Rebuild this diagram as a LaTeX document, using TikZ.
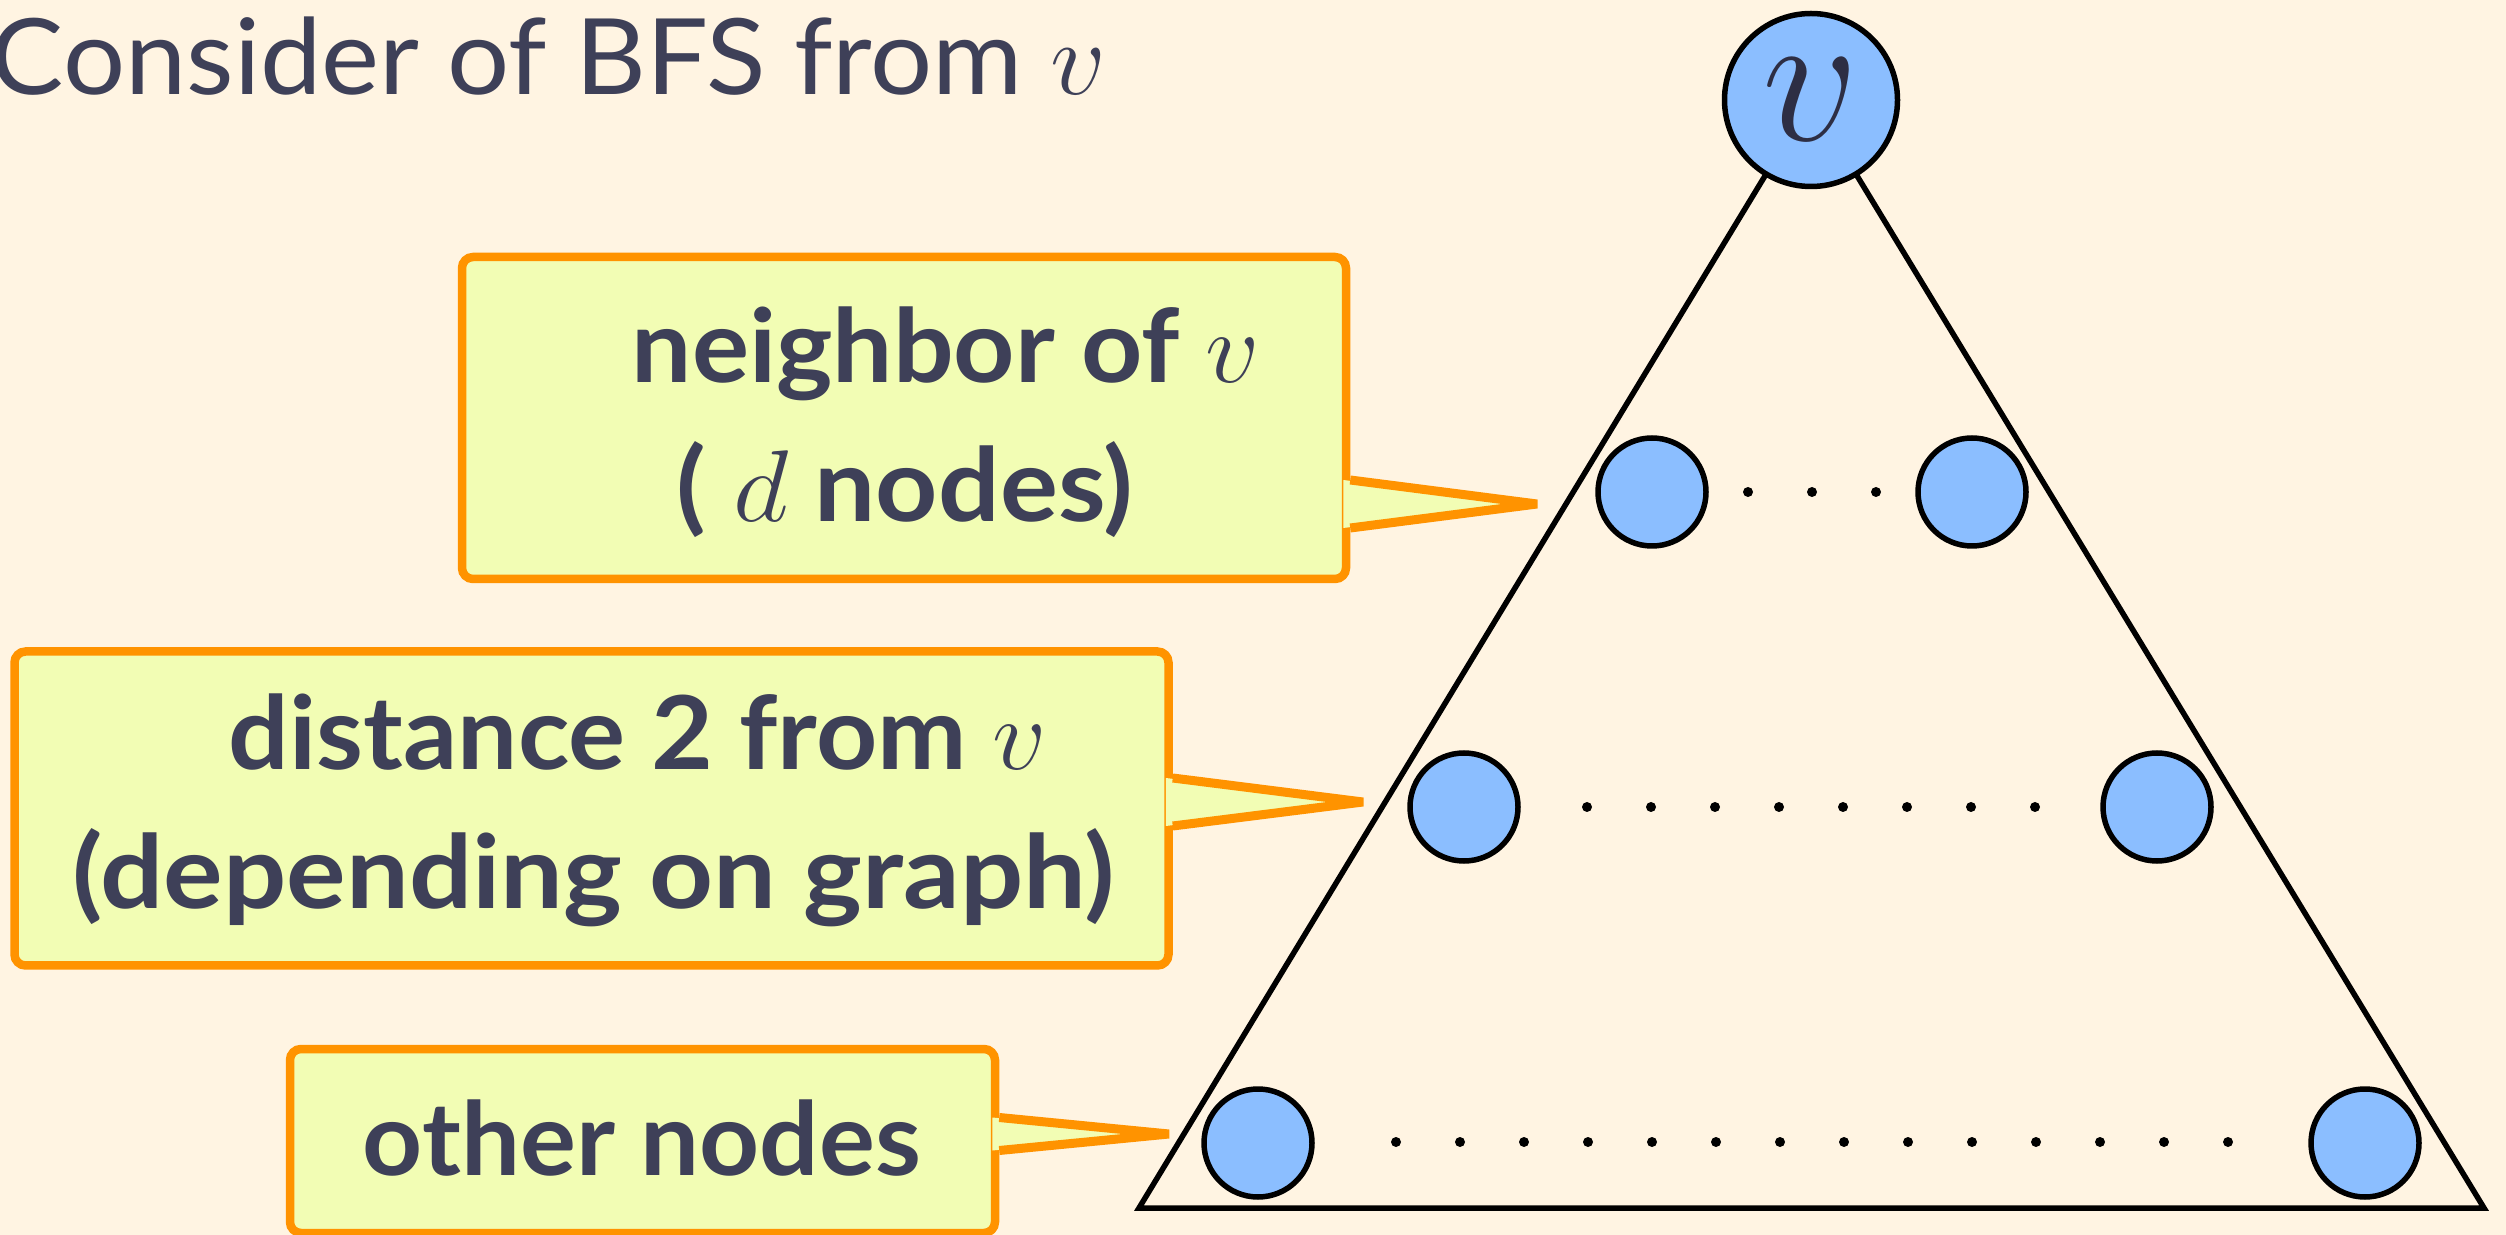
\RequirePackage{fix-cm}
\documentclass[tikz,border=0pt]{standalone}
\usepackage{graphicx}
\usepackage{fontspec}
\setmainfont{Lato}
\usetikzlibrary{calc}

\definecolor{bgcream}{HTML}{FFF4E2}
\definecolor{boxfill}{HTML}{F2FDB4}
\definecolor{boxline}{HTML}{FF9300}
\definecolor{nodeblue}{HTML}{8BBEFF}
\definecolor{ink}{HTML}{3E4058}
\definecolor{deepink}{HTML}{2D2E44}

% set a text to a given width, keeping its height
\newcommand\widetext[2]{\resizebox{#1}{\height}{#2}}

\begin{document}
\begin{tikzpicture}[x=0.1mm,y=-0.1mm,
  vertex/.style={circle, draw=black, fill=nodeblue, line width=0.55mm,
                 minimum size=10.8mm, inner sep=0pt},
  rootvertex/.style={vertex, minimum size=17.3mm},
  callbox/.style={rectangle, draw=boxline, fill=boxfill, line width=0.85mm,
                  rounded corners=1.1mm, inner sep=0pt},
  pointerline/.style={draw=boxline, line width=0.9mm, line join=bevel},
  calltext/.style={text=ink, anchor=base, inner sep=0pt,
                   font=\bfseries\fontsize{29}{35}\selectfont},
  headline/.style={text=ink, anchor=base west, inner sep=0pt,
                   font=\fontsize{30}{36}\selectfont},
  dotmark/.style={circle, fill=black, inner sep=0pt, minimum size=1.0mm},
  treeline/.style={draw=black, line width=0.55mm, line join=miter}
]
% page and background
\fill[bgcream] (0,0) rectangle (2506,1235);
\useasboundingbox (0,0) rectangle (2506,1235);

% title
\node[headline] (title) at (-10,95) {\widetext{111.6mm}{Consider of BFS from $v$}};

% BFS tree outline
\coordinate (apex) at (1811,100);
\coordinate (bl) at (1139,1208);
\coordinate (br) at (2484,1208);
\draw[treeline] (apex) -- (bl) -- (br) -- cycle;

% tree nodes
\node[rootvertex] (v) at (apex) {\color{deepink}\fontsize{54}{54}\selectfont$v$};
\node[vertex] (n1l) at (1652,492) {};
\node[vertex] (n1r) at (1972,492) {};
\node[vertex] (n2l) at (1464,807) {};
\node[vertex] (n2r) at (2157,807) {};
\node[vertex] (n3l) at (1258,1143) {};
\node[vertex] (n3r) at (2365,1143) {};

% dotted rows between the nodes of each level
\foreach \x in {1748,1812,1876}
  \node[dotmark] (da\x) at (\x,492) {};
\foreach \x in {1587,1651,...,2035}
  \node[dotmark] (db\x) at (\x,807) {};
\foreach \x in {1396,1460,...,2228}
  \node[dotmark] (dc\x) at (\x,1142) {};

% callout boxes
\node[callbox, minimum width=88.4mm, minimum height=32.2mm] (box1) at (904,418) {};
\node[callbox, minimum width=115.4mm, minimum height=31.4mm] (box2) at (591.5,808.5) {};
\node[callbox, minimum width=70.5mm, minimum height=18.4mm] (box3) at (642.5,1141) {};

% callout pointers
\coordinate (tip1) at (1537,504);
\coordinate (tip2) at (1363,802);
\coordinate (tip3) at (1169,1134);
\coordinate (b1) at (box1.east|-tip1);
\coordinate (b2) at (box2.east|-tip2);
\coordinate (b3) at (box3.east|-tip3);

\fill[boxfill] ([yshift=2.4mm,xshift=-0.7mm]b1) -- (tip1) -- ([yshift=-2.4mm,xshift=-0.7mm]b1) -- cycle;
\draw[pointerline] ([yshift=2.4mm]b1) -- (tip1) -- ([yshift=-2.4mm]b1);

\fill[boxfill] ([yshift=2.4mm,xshift=-0.7mm]b2) -- (tip2) -- ([yshift=-2.4mm,xshift=-0.7mm]b2) -- cycle;
\draw[pointerline] ([yshift=2.4mm]b2) -- (tip2) -- ([yshift=-2.4mm]b2);

\fill[boxfill] ([yshift=1.65mm,xshift=-0.7mm]b3) -- (tip3) -- ([yshift=-1.65mm,xshift=-0.7mm]b3) -- cycle;
\draw[pointerline] ([yshift=1.65mm]b3) -- (tip3) -- ([yshift=-1.65mm]b3);

% callout texts
\node[calltext] (t1a) at (946,383) {\widetext{62.8mm}{neighbor of $v$}};
\node[calltext] (t1b) at (905,522) {\widetext{45.6mm}{( $d$ nodes)}};
\node[calltext] (t2a) at (638,770) {\widetext{81.8mm}{distance 2 from $v$}};
\node[calltext] (t2b) at (594,908) {\widetext{104.2mm}{(depending on graph)}};
\node[calltext] (t3) at (642,1175) {\widetext{55.8mm}{other nodes}};
\end{tikzpicture}
\end{document}
